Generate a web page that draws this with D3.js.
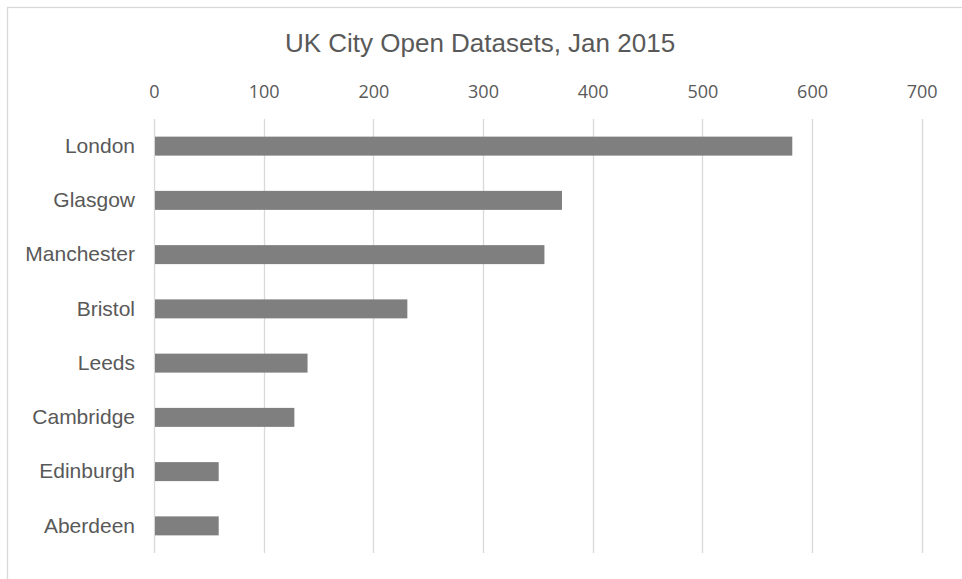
<!DOCTYPE html>
<html lang="en">
<head>
    <meta charset="UTF-8">
    <title>UK City Open Datasets, Jan 2015</title>
    <script src="https://d3js.org/d3.v7.min.js"></script>
    <style>
        body {
            margin: 0;
            background: #fff;
        }
        svg {
            display: block;
        }
        .title {
            font-family: "Liberation Sans", Arial, sans-serif;
            font-size: 26px;
            fill: #595959;
        }
        .x-axis text {
            font-family: "Open Sans", sans-serif;
            font-size: 18px;
            fill: #595959;
        }
        .y-axis text {
            font-family: "Liberation Sans", Arial, sans-serif;
            font-size: 21px;
            fill: #595959;
        }
    </style>
</head>
<body>
<div id="chart"></div>
<script>
    const cities = ["London", "Glasgow", "Manchester", "Bristol", "Leeds", "Cambridge", "Edinburgh", "Aberdeen"];
    const datasets = [582, 372, 356, 231, 140, 128, 59, 59];
    const xTicks = [0, 100, 200, 300, 400, 500, 600, 700];

    const data = cities.map((c, i) => ({city: c, value: datasets[i]}));

    const width = 962, height = 579;
    const margin = {top: 119, right: 40, bottom: 26, left: 154};

    const svg = d3.select("#chart")
        .append("svg")
        .attr("width", width)
        .attr("height", height);

    // chart border (runs off the right and bottom edges)
    svg.append("rect")
        .attr("x", 7.5)
        .attr("y", 7.5)
        .attr("width", 2000)
        .attr("height", 2000)
        .attr("fill", "none")
        .attr("stroke", "#d9d9d9")
        .attr("stroke-width", 1.3);

    svg.append("text")
        .attr("class", "title")
        .attr("x", 480)
        .attr("y", 52)
        .attr("text-anchor", "middle")
        .text("UK City Open Datasets, Jan 2015");

    const x = d3.scaleLinear()
        .domain([0, 700])
        .range([margin.left, 921.7]);

    const y = d3.scaleBand()
        .domain(cities)
        .range([margin.top, height - margin.bottom])
        .paddingInner(0.65)
        .paddingOuter(0.325);

    // vertical gridlines
    svg.append("g")
        .selectAll("line")
        .data(xTicks)
        .join("line")
        .attr("x1", d => Math.round(x(d)) + 0.5)
        .attr("x2", d => Math.round(x(d)) + 0.5)
        .attr("y1", margin.top)
        .attr("y2", height - margin.bottom)
        .attr("stroke", "#d9d9d9")
        .attr("stroke-width", 1.3);

    // value axis on top
    const xAxis = svg.append("g")
        .attr("class", "x-axis")
        .attr("transform", "translate(0,98)")
        .call(d3.axisTop(x).tickValues(xTicks).tickSize(0).tickPadding(0));
    xAxis.select(".domain").remove();

    // category axis
    const yAxis = svg.append("g")
        .attr("class", "y-axis")
        .attr("transform", `translate(${margin.left},0)`)
        .call(d3.axisLeft(y).tickSize(0).tickPadding(19));
    yAxis.select(".domain").remove();

    svg.append("g")
        .selectAll("rect")
        .data(data)
        .join("rect")
        .attr("x", x(0) + 1)
        .attr("y", d => y(d.city))
        .attr("width", d => x(d.value) - x(0) - 1)
        .attr("height", y.bandwidth())
        .attr("fill", "#7f7f7f");
</script>
</body>
</html>
